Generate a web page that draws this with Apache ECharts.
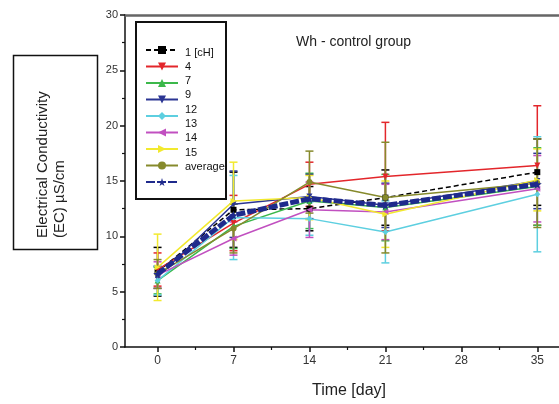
<!DOCTYPE html>
<html>
<head>
<meta charset="utf-8">
<script src="https://cdn.jsdelivr.net/npm/echarts@6/dist/echarts.min.js"></script>
<style>html,body{margin:0;padding:0;background:#fff}#c{width:559px;height:404px}</style>
</head>
<body>
<div id="c"></div>
<script>
// ---- data ----
const days = [0, 7, 14, 21, 35];
const xTickDays = [0, 7, 14, 21, 28, 35];
const xMinorDays = [3.5, 10.5, 17.5, 24.5, 31.5];
const seriesNames = ['1 [cH]', '4', '7', '9', '12', '13', '14', '15', 'average'];
const s1 = [6.8, 12.4, 12.5, 13.5, 15.8];
const s1err = [2.2, 3.4, 2.0, 2.5, 3.0];
const s4 = [7.0, 11.2, 14.7, 15.4, 16.4];
const s4err = [1.5, 2.5, 2.0, 4.9, 5.4];
const s7 = [6.0, 10.9, 13.2, 12.6, 14.5];
const s7err = [1.2, 2.0, 2.5, 3.0, 3.5];
const s9 = [6.3, 12.9, 13.6, 12.8, 15.0];
const s9err = [1.0, 3.0, 2.0, 2.0, 2.5];
const s12 = [6.0, 11.7, 11.6, 10.4, 13.8];
const s12err = [1.3, 3.8, 1.5, 2.8, 5.2];
const s13 = [6.5, 9.8, 12.4, 12.2, 14.3];
const s13err = [1.2, 1.5, 2.5, 2.5, 3.0];
const s14 = [7.2, 13.2, 13.5, 12.0, 15.1];
const s14err = [3.0, 3.5, 2.0, 3.0, 2.8];
const s15 = [6.6, 10.7, 14.9, 13.5, 14.8];
const s15err = [1.3, 2.2, 2.8, 5.0, 4.0];
const sAvg = [6.6, 11.9, 13.4, 12.8, 14.7];

// ---- styles ----
const STAR = 'path://M50,0 L61,35 L98,35 L68,57 L79,91 L50,70 L21,91 L32,57 L2,35 L39,35 Z';
const FONT = 'Liberation Sans, Arial, sans-serif';
const defs = [
  {name: seriesNames[0], v: s1, e: s1err, color: '#000000', symbol: 'rect', rot: 0, dash: [5, 3], w: 1.5},
  {name: seriesNames[1], v: s4, e: s4err, color: '#e3262b', symbol: 'triangle', rot: 180, dash: 'solid', w: 1.5},
  {name: seriesNames[2], v: s7, e: s7err, color: '#3cb84b', symbol: 'triangle', rot: 0, dash: 'solid', w: 1.5},
  {name: seriesNames[3], v: s9, e: s9err, color: '#2b3593', symbol: 'triangle', rot: 180, dash: 'solid', w: 1.5},
  {name: seriesNames[4], v: s12, e: s12err, color: '#5dcfe0', symbol: 'diamond', rot: 0, dash: 'solid', w: 1.5},
  {name: seriesNames[5], v: s13, e: s13err, color: '#c150c0', symbol: 'triangle', rot: 90, dash: 'solid', w: 1.5},
  {name: seriesNames[6], v: s14, e: s14err, color: '#f2e92e', symbol: 'triangle', rot: -90, dash: 'solid', w: 1.5},
  {name: seriesNames[7], v: s15, e: s15err, color: '#868a2c', symbol: 'circle', rot: 0, dash: 'solid', w: 1.5},
  {name: seriesNames[8], v: sAvg, e: null, color: '#1f2a8c', symbol: STAR, rot: 0, dash: [9, 2], w: 5}
];

const series = [];
// error bars first (behind lines)
defs.forEach(d => {
  if (!d.e) return;
  series.push({
    type: 'custom',
    name: d.name + ' err',
    xAxisIndex: 0,
    yAxisIndex: 0,
    silent: true,
    z: 1,
    data: days.map((x, i) => [x, d.v[i] - d.e[i], d.v[i] + d.e[i]]),
    renderItem: (params, api) => {
      const lo = api.coord([api.value(0), api.value(1)]);
      const hi = api.coord([api.value(0), api.value(2)]);
      const hw = 4;
      const st = {stroke: d.color, lineWidth: 1.5};
      return {
        type: 'group',
        children: [
          {type: 'line', shape: {x1: lo[0], y1: lo[1], x2: hi[0], y2: hi[1]}, style: st},
          {type: 'line', shape: {x1: lo[0] - hw, y1: lo[1], x2: lo[0] + hw, y2: lo[1]}, style: st},
          {type: 'line', shape: {x1: hi[0] - hw, y1: hi[1], x2: hi[0] + hw, y2: hi[1]}, style: st}
        ]
      };
    }
  });
});
defs.forEach(d => {
  series.push({
    type: 'line',
    name: d.name,
    xAxisIndex: 0,
    yAxisIndex: 0,
    z: d.e ? 3 : 5,
    data: days.map((x, i) => [x, d.v[i]]),
    symbol: d.symbol,
    symbolRotate: d.rot,
    symbolSize: d.e ? 6 : 9,
    color: d.color,
    lineStyle: {color: d.color, width: d.w, type: d.dash},
    itemStyle: {color: d.color}
  });
});

const chart = echarts.init(document.getElementById('c'), null, {renderer: 'canvas'});
chart.setOption({
  animation: false,
  backgroundColor: '#ffffff',
  title: {
    text: 'Wh - control group',
    left: 291, top: 30,
    textStyle: {fontFamily: FONT, fontSize: 14, fontWeight: 'normal', color: '#222'}
  },
  grid: {left: 125, right: 0, top: 15, bottom: 52, containLabel: false},
  legend: [
    {
      data: seriesNames,
      orient: 'vertical',
      left: 140, top: 40,
      itemWidth: 32, itemHeight: 10, itemGap: 7.5,
      selectedMode: false,
      formatter: () => '',
      textStyle: {fontSize: 1}
    },
    {
      data: seriesNames,
      orient: 'vertical',
      left: 171, top: 42,
      itemWidth: 0, itemHeight: 10, itemGap: 3.3,
      selectedMode: false,
      itemStyle: {opacity: 0},
      lineStyle: {opacity: 0},
      textStyle: {fontFamily: FONT, fontSize: 11, color: '#111', padding: 0}
    }
  ],
  xAxis: [
    {
      type: 'value', min: -3, max: 37, position: 'bottom',
      axisLine: {show: true, onZero: false, lineStyle: {color: '#111', width: 1.5}},
      axisTick: {show: true, customValues: xTickDays, length: 5, lineStyle: {color: '#111', width: 1.5}},
      axisLabel: {customValues: xTickDays, fontSize: 12, color: '#333', margin: 8, fontFamily: FONT},
      splitLine: {show: false},
      name: 'Time [day]', nameLocation: 'middle', nameGap: 36,
      nameTextStyle: {fontSize: 16, color: '#222', padding: [0, 0, 0, 14], fontFamily: FONT}
    },
    {
      type: 'value', min: -3, max: 37, position: 'bottom',
      axisLine: {show: false, onZero: false},
      axisTick: {show: true, customValues: xMinorDays, length: 3, lineStyle: {color: '#111', width: 1.2}},
      axisLabel: {show: false},
      splitLine: {show: false}
    },
    {
      type: 'value', min: -3, max: 37, position: 'top',
      axisLine: {show: true, onZero: false, lineStyle: {color: '#666', width: 2.5}},
      axisTick: {show: false},
      axisLabel: {show: false},
      splitLine: {show: false}
    }
  ],
  yAxis: {
    type: 'value', min: 0, max: 30, interval: 5,
    axisLine: {show: true, onZero: false, lineStyle: {color: '#111', width: 1.5}},
    axisTick: {show: true, length: 5, lineStyle: {color: '#111', width: 1.5}},
    minorTick: {show: true, splitNumber: 2, length: 3, lineStyle: {color: '#111', width: 1.2}},
    axisLabel: {fontSize: 11, color: '#333', margin: 7, fontFamily: FONT},
    splitLine: {show: false}
  },
  graphic: [
    {
      type: 'rect', z: 100, silent: true,
      shape: {x: 13.5, y: 55.5, width: 84, height: 194},
      style: {fill: '#fff', stroke: '#111', lineWidth: 1.5}
    },
    {
      type: 'text', z: 101, silent: true,
      x: 51, y: 238, rotation: Math.PI / 2,
      style: {
        text: 'Electrical Conductivity\n(EC) µS/cm',
        fontFamily: FONT,
        fontSize: 15, lineHeight: 17, fill: '#222',
        align: 'left', verticalAlign: 'middle'
      }
    },
    {
      type: 'rect', z: 0, silent: true,
      shape: {x: 136, y: 22, width: 90, height: 177},
      style: {fill: '#fff', stroke: '#111', lineWidth: 2}
    }
  ],
  series: series
});
</script>
</body>
</html>
